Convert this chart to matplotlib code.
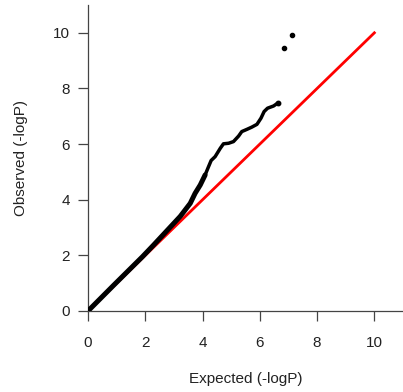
import matplotlib
matplotlib.use("Agg")
import matplotlib.pyplot as plt

# expected vs observed -logP
expected = [0.0, 0.9, 1.9, 2.28, 2.75, 3.22, 3.57, 3.74, 3.92, 4.09, 4.21,
            4.30, 4.44, 4.62, 4.73, 4.91, 5.08, 5.26, 5.37, 5.55, 5.72, 5.90,
            6.04, 6.15, 6.27, 6.48, 6.65]
observed = [0.0, 0.93, 1.95, 2.36, 2.88, 3.40, 3.87, 4.23, 4.53, 4.89, 5.19,
            5.41, 5.55, 5.85, 6.01, 6.03, 6.09, 6.29, 6.45, 6.53, 6.61, 6.71,
            6.93, 7.17, 7.29, 7.37, 7.49]
top_expected = [6.84, 7.14]
top_observed = [9.44, 9.93]
diag = [0, 10]
ticks = [0, 2, 4, 6, 8, 10]

plt.rcParams['font.family'] = ['Liberation Sans', 'DejaVu Sans']
grey = '#444444'
fs = 11

fig = plt.figure(figsize=(4.03, 3.92), dpi=100)
ax = fig.add_axes([88 / 403, 81 / 392, 315 / 403, 306 / 392])

ax.plot(diag, diag, color='red', lw=2.0, zorder=2)

# dense part is drawn thicker, like the overlapping points
ax.plot(expected[:10], observed[:10], color='black', lw=3.6,
        solid_capstyle='round', solid_joinstyle='round', zorder=3)
ax.plot(expected[9:], observed[9:], color='black', lw=2.5,
        solid_capstyle='round', solid_joinstyle='round', zorder=3)
ax.plot(expected[-1:], observed[-1:], 'o', color='black', ms=3.2, zorder=3)
ax.plot(top_expected, top_observed, 'o', color='black', ms=3.0, zorder=3)

ax.set_xlim(0, 11)
ax.set_ylim(0, 11)
ax.set_xticks(ticks)
ax.set_yticks(ticks)

for side in ['top', 'right']:
    ax.spines[side].set_visible(False)
for side in ['left', 'bottom']:
    ax.spines[side].set_color(grey)
    ax.spines[side].set_linewidth(0.9)

ax.tick_params(direction='out', length=7, width=0.9, color=grey,
               labelsize=fs, labelcolor='#222222')
ax.tick_params(axis='x', pad=11)
ax.tick_params(axis='y', pad=6)

ax.set_xlabel('Expected (-logP)', fontsize=fs, color='#222222')
ax.set_ylabel('Observed (-logP)', fontsize=fs, color='#222222')
ax.xaxis.set_label_coords(0.5, -0.2)
ax.yaxis.set_label_coords(-0.19, 0.5)

fig.savefig('out.png', dpi=100)
